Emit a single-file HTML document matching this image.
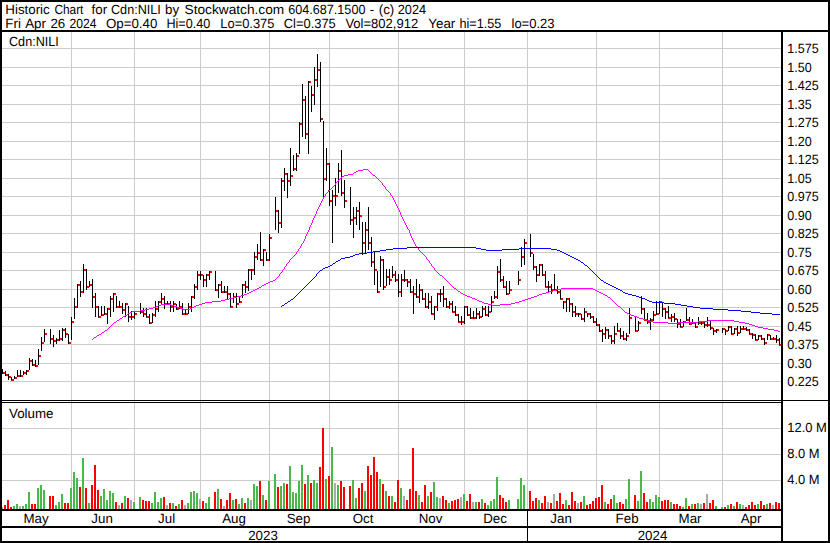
<!DOCTYPE html>
<html><head><meta charset="utf-8"><title>Historic Chart for Cdn:NILI</title>
<style>html,body{margin:0;padding:0;background:#fff;}svg{display:block;}</style></head>
<body>
<svg width="830" height="543" viewBox="0 0 830 543" shape-rendering="crispEdges">
<rect width="830" height="543" fill="#fff"/>
<path fill="#cccccc" d="M2 48h779v1h-779zM2 67h779v1h-779zM2 85h779v1h-779zM2 104h779v1h-779zM2 122h779v1h-779zM2 141h779v1h-779zM2 159h779v1h-779zM2 178h779v1h-779zM2 196h779v1h-779zM2 215h779v1h-779zM2 233h779v1h-779zM2 252h779v1h-779zM2 270h779v1h-779zM2 289h779v1h-779zM2 307h779v1h-779zM2 326h779v1h-779zM2 344h779v1h-779zM2 363h779v1h-779zM2 381h779v1h-779zM2 428h779v1h-779zM2 454h779v1h-779zM2 480h779v1h-779zM71 32h1v477h-1zM134 32h1v477h-1zM200 32h1v477h-1zM269 32h1v477h-1zM329 32h1v477h-1zM398 32h1v477h-1zM464 32h1v477h-1zM527 32h1v477h-1zM596 32h1v477h-1zM659 32h1v477h-1zM722 32h1v477h-1z"/>
<path fill="#48b848" d="M13 506h2v3h-2zM16 504h2v5h-2zM22 506h2v3h-2zM25 504h2v5h-2zM28 492h2v17h-2zM37 488h2v21h-2zM40 485h2v24h-2zM43 490h2v19h-2zM55 505h2v4h-2zM58 502h2v7h-2zM61 494h2v15h-2zM70 488h2v21h-2zM73 472h2v37h-2zM76 478h2v31h-2zM82 458h2v51h-2zM88 503h2v6h-2zM100 496h2v13h-2zM103 489h2v20h-2zM106 500h2v9h-2zM109 491h2v18h-2zM112 493h2v16h-2zM124 496h2v13h-2zM133 502h2v7h-2zM139 497h2v12h-2zM151 503h2v6h-2zM154 492h2v17h-2zM157 502h2v7h-2zM160 498h2v11h-2zM172 503h2v6h-2zM178 504h2v5h-2zM187 503h2v6h-2zM190 492h2v17h-2zM193 491h2v18h-2zM196 493h2v16h-2zM205 503h2v6h-2zM208 497h2v12h-2zM217 489h2v20h-2zM232 500h2v9h-2zM238 504h2v5h-2zM241 498h2v11h-2zM247 498h2v11h-2zM253 484h2v25h-2zM256 486h2v23h-2zM262 495h2v14h-2zM268 481h2v28h-2zM274 474h2v35h-2zM280 486h2v23h-2zM283 483h2v26h-2zM289 466h2v43h-2zM292 492h2v17h-2zM295 493h2v16h-2zM298 481h2v28h-2zM301 465h2v44h-2zM307 475h2v34h-2zM313 480h2v29h-2zM316 483h2v26h-2zM325 479h2v30h-2zM331 447h2v62h-2zM337 485h2v24h-2zM352 480h2v29h-2zM355 498h2v11h-2zM364 491h2v18h-2zM379 479h2v30h-2zM385 491h2v18h-2zM391 496h2v13h-2zM400 488h2v21h-2zM418 495h2v14h-2zM427 496h2v13h-2zM433 482h2v27h-2zM436 497h2v12h-2zM448 503h2v6h-2zM463 494h2v15h-2zM475 502h2v7h-2zM481 499h2v10h-2zM487 505h2v4h-2zM490 501h2v8h-2zM493 499h2v10h-2zM496 477h2v32h-2zM508 500h2v9h-2zM517 499h2v10h-2zM520 478h2v31h-2zM523 485h2v24h-2zM538 500h2v9h-2zM565 500h2v9h-2zM583 496h2v13h-2zM604 502h2v7h-2zM613 495h2v14h-2zM616 503h2v6h-2zM625 499h2v10h-2zM628 479h2v30h-2zM637 501h2v8h-2zM640 471h2v38h-2zM649 499h2v10h-2zM652 502h2v7h-2zM655 495h2v14h-2zM658 497h2v12h-2zM670 502h2v7h-2zM682 507h2v2h-2zM685 498h2v11h-2zM691 504h2v5h-2zM697 503h2v6h-2zM715 506h2v3h-2zM721 507h2v2h-2zM727 505h2v4h-2zM733 506h2v3h-2zM739 504h2v5h-2zM757 504h2v5h-2zM766 504h2v5h-2z"/>
<path fill="#aaaaaa" d="M1 507h2v2h-2zM19 506h2v3h-2zM118 505h2v4h-2zM130 500h2v9h-2zM166 505h2v4h-2zM184 505h2v4h-2zM199 499h2v10h-2zM223 506h2v3h-2zM250 500h2v9h-2zM334 483h2v26h-2zM403 496h2v13h-2zM439 498h2v11h-2zM460 497h2v12h-2zM472 502h2v7h-2zM547 502h2v7h-2zM553 494h2v15h-2zM577 503h2v6h-2zM700 504h2v5h-2zM706 494h2v15h-2zM742 505h2v4h-2zM772 505h2v4h-2z"/>
<path fill="#ff0000" d="M4 505h2v4h-2zM7 500h2v9h-2zM10 507h2v2h-2zM31 504h2v5h-2zM34 504h2v5h-2zM49 496h2v13h-2zM52 496h2v13h-2zM64 503h2v6h-2zM67 503h2v6h-2zM79 487h2v22h-2zM85 488h2v21h-2zM91 485h2v24h-2zM94 465h2v44h-2zM97 490h2v19h-2zM115 502h2v7h-2zM121 503h2v6h-2zM127 498h2v11h-2zM142 500h2v9h-2zM145 501h2v8h-2zM148 501h2v8h-2zM163 497h2v12h-2zM169 503h2v6h-2zM175 506h2v3h-2zM181 500h2v9h-2zM202 501h2v8h-2zM214 492h2v17h-2zM220 499h2v10h-2zM226 500h2v9h-2zM229 493h2v16h-2zM235 499h2v10h-2zM244 503h2v6h-2zM259 481h2v28h-2zM265 500h2v9h-2zM277 487h2v22h-2zM286 484h2v25h-2zM304 484h2v25h-2zM310 483h2v26h-2zM319 467h2v42h-2zM322 428h2v81h-2zM328 476h2v33h-2zM340 481h2v28h-2zM343 487h2v22h-2zM349 486h2v23h-2zM358 488h2v21h-2zM361 483h2v26h-2zM367 466h2v43h-2zM370 475h2v34h-2zM373 457h2v52h-2zM376 472h2v37h-2zM382 484h2v25h-2zM388 496h2v13h-2zM394 502h2v7h-2zM397 480h2v29h-2zM406 500h2v9h-2zM409 489h2v20h-2zM412 448h2v61h-2zM415 491h2v18h-2zM421 502h2v7h-2zM424 485h2v24h-2zM430 492h2v17h-2zM442 496h2v13h-2zM445 500h2v9h-2zM451 501h2v8h-2zM454 500h2v9h-2zM457 499h2v10h-2zM466 501h2v8h-2zM469 494h2v15h-2zM478 502h2v7h-2zM484 503h2v6h-2zM499 495h2v14h-2zM502 498h2v11h-2zM505 502h2v7h-2zM529 491h2v18h-2zM532 501h2v8h-2zM535 498h2v11h-2zM541 503h2v6h-2zM544 496h2v13h-2zM550 503h2v6h-2zM556 501h2v8h-2zM559 493h2v16h-2zM562 504h2v5h-2zM568 505h2v4h-2zM571 492h2v17h-2zM574 501h2v8h-2zM580 502h2v7h-2zM586 505h2v4h-2zM589 504h2v5h-2zM592 501h2v8h-2zM595 498h2v11h-2zM598 497h2v12h-2zM601 485h2v24h-2zM607 504h2v5h-2zM610 499h2v10h-2zM619 502h2v7h-2zM622 504h2v5h-2zM634 495h2v14h-2zM643 493h2v16h-2zM646 502h2v7h-2zM661 501h2v8h-2zM664 500h2v9h-2zM667 500h2v9h-2zM673 504h2v5h-2zM676 504h2v5h-2zM679 506h2v3h-2zM688 506h2v3h-2zM694 504h2v5h-2zM703 503h2v6h-2zM709 503h2v6h-2zM712 500h2v9h-2zM724 507h2v2h-2zM730 504h2v5h-2zM736 502h2v7h-2zM745 507h2v2h-2zM748 505h2v4h-2zM751 502h2v7h-2zM754 505h2v4h-2zM760 501h2v8h-2zM763 505h2v4h-2zM769 503h2v6h-2zM775 502h2v7h-2zM778 503h2v6h-2z"/>
<path fill="#ff0000" d="M2 372h3v2h-3zM5 374h3v2h-3zM8 376h3v2h-3zM11 379h3v2h-3zM14 377h3v2h-3zM17 375h3v2h-3zM20 375h3v2h-3zM23 372h3v2h-3zM26 370h3v2h-3zM29 360h3v2h-3zM32 364h3v2h-3zM35 365h3v2h-3zM38 355h3v2h-3zM41 342h3v2h-3zM44 333h3v2h-3zM50 338h3v2h-3zM53 340h3v2h-3zM56 339h3v2h-3zM59 338h3v2h-3zM62 329h3v2h-3zM65 333h3v2h-3zM68 342h3v2h-3zM71 321h3v2h-3zM74 306h3v2h-3zM77 284h3v2h-3zM80 291h3v2h-3zM83 269h3v2h-3zM86 286h3v2h-3zM89 284h3v2h-3zM92 296h3v2h-3zM95 306h3v2h-3zM98 316h3v2h-3zM101 314h3v2h-3zM104 313h3v2h-3zM107 308h3v2h-3zM110 298h3v2h-3zM113 293h3v2h-3zM116 306h3v2h-3zM119 306h3v2h-3zM122 309h3v2h-3zM125 303h3v2h-3zM128 316h3v2h-3zM131 316h3v2h-3zM134 313h3v2h-3zM140 311h3v2h-3zM143 313h3v2h-3zM146 316h3v2h-3zM149 322h3v2h-3zM152 314h3v2h-3zM155 308h3v2h-3zM158 301h3v2h-3zM161 298h3v2h-3zM164 303h3v2h-3zM167 303h3v2h-3zM170 306h3v2h-3zM173 303h3v2h-3zM176 308h3v2h-3zM179 306h3v2h-3zM182 313h3v2h-3zM185 313h3v2h-3zM188 306h3v2h-3zM191 296h3v2h-3zM194 286h3v2h-3zM197 274h3v2h-3zM200 274h3v2h-3zM203 279h3v2h-3zM206 274h3v2h-3zM209 271h3v2h-3zM215 289h3v2h-3zM218 284h3v2h-3zM221 291h3v2h-3zM224 291h3v2h-3zM227 293h3v2h-3zM230 306h3v2h-3zM233 296h3v2h-3zM236 303h3v2h-3zM239 301h3v2h-3zM242 284h3v2h-3zM245 286h3v2h-3zM248 269h3v2h-3zM251 269h3v2h-3zM254 256h3v2h-3zM257 252h3v2h-3zM260 259h3v2h-3zM263 249h3v2h-3zM266 259h3v2h-3zM269 237h3v2h-3zM275 210h3v2h-3zM278 222h3v2h-3zM281 180h3v2h-3zM284 173h3v2h-3zM287 180h3v2h-3zM290 175h3v2h-3zM293 168h3v2h-3zM296 155h3v2h-3zM299 123h3v2h-3zM302 99h3v2h-3zM305 133h3v2h-3zM308 81h3v2h-3zM311 94h3v2h-3zM314 79h3v2h-3zM317 69h3v2h-3zM320 118h3v2h-3zM323 178h3v2h-3zM326 163h3v2h-3zM329 200h3v2h-3zM332 195h3v2h-3zM335 195h3v2h-3zM338 170h3v2h-3zM341 192h3v2h-3zM344 200h3v2h-3zM350 219h3v2h-3zM353 217h3v2h-3zM356 210h3v2h-3zM359 215h3v2h-3zM362 242h3v2h-3zM365 229h3v2h-3zM368 242h3v2h-3zM371 261h3v2h-3zM374 269h3v2h-3zM377 291h3v2h-3zM380 259h3v2h-3zM383 286h3v2h-3zM386 276h3v2h-3zM389 279h3v2h-3zM392 274h3v2h-3zM395 279h3v2h-3zM398 291h3v2h-3zM401 279h3v2h-3zM404 279h3v2h-3zM407 281h3v2h-3zM410 291h3v2h-3zM413 293h3v2h-3zM416 296h3v2h-3zM419 289h3v2h-3zM422 298h3v2h-3zM425 306h3v2h-3zM428 301h3v2h-3zM431 313h3v2h-3zM434 306h3v2h-3zM437 293h3v2h-3zM440 293h3v2h-3zM443 298h3v2h-3zM446 306h3v2h-3zM449 303h3v2h-3zM452 311h3v2h-3zM455 314h3v2h-3zM458 321h3v2h-3zM461 321h3v2h-3zM464 306h3v2h-3zM467 314h3v2h-3zM470 317h3v2h-3zM473 317h3v2h-3zM476 313h3v2h-3zM479 316h3v2h-3zM482 308h3v2h-3zM485 314h3v2h-3zM488 311h3v2h-3zM491 301h3v2h-3zM494 296h3v2h-3zM497 271h3v2h-3zM500 279h3v2h-3zM503 286h3v2h-3zM506 293h3v2h-3zM509 289h3v2h-3zM518 279h3v2h-3zM521 256h3v2h-3zM524 242h3v2h-3zM530 252h3v2h-3zM533 266h3v2h-3zM536 274h3v2h-3zM539 264h3v2h-3zM542 274h3v2h-3zM545 286h3v2h-3zM548 286h3v2h-3zM551 289h3v2h-3zM554 289h3v2h-3zM557 291h3v2h-3zM560 298h3v2h-3zM563 301h3v2h-3zM566 298h3v2h-3zM569 303h3v2h-3zM572 311h3v2h-3zM575 313h3v2h-3zM578 313h3v2h-3zM581 318h3v2h-3zM584 311h3v2h-3zM587 313h3v2h-3zM590 316h3v2h-3zM593 321h3v2h-3zM596 324h3v2h-3zM599 330h3v2h-3zM602 333h3v2h-3zM605 329h3v2h-3zM608 335h3v2h-3zM611 340h3v2h-3zM614 333h3v2h-3zM617 330h3v2h-3zM620 335h3v2h-3zM623 338h3v2h-3zM626 335h3v2h-3zM629 317h3v2h-3zM635 330h3v2h-3zM638 322h3v2h-3zM641 308h3v2h-3zM644 319h3v2h-3zM647 321h3v2h-3zM650 319h3v2h-3zM653 314h3v2h-3zM656 313h3v2h-3zM659 301h3v2h-3zM662 308h3v2h-3zM665 311h3v2h-3zM668 317h3v2h-3zM671 316h3v2h-3zM674 318h3v2h-3zM677 323h3v2h-3zM680 326h3v2h-3zM683 321h3v2h-3zM686 319h3v2h-3zM689 323h3v2h-3zM692 322h3v2h-3zM695 326h3v2h-3zM698 322h3v2h-3zM701 322h3v2h-3zM704 324h3v2h-3zM707 324h3v2h-3zM710 327h3v2h-3zM713 330h3v2h-3zM716 329h3v2h-3zM722 328h3v2h-3zM725 330h3v2h-3zM728 326h3v2h-3zM731 333h3v2h-3zM734 328h3v2h-3zM737 332h3v2h-3zM740 328h3v2h-3zM743 328h3v2h-3zM746 329h3v2h-3zM749 333h3v2h-3zM752 334h3v2h-3zM755 339h3v2h-3zM758 335h3v2h-3zM761 338h3v2h-3zM764 342h3v2h-3zM767 334h3v2h-3zM770 338h3v2h-3zM773 338h3v2h-3zM776 339h3v2h-3zM779 344h3v2h-3z"/>
<path fill="#000" d="M2 369h1v5h-1zM5 371h1v5h-1zM8 374h1v6h-1zM11 377h1v3h-1zM14 376h1v3h-1zM17 370h1v7h-1zM20 370h1v7h-1zM23 371h1v4h-1zM26 370h1v5h-1zM29 358h1v12h-1zM32 359h1v7h-1zM35 360h1v7h-1zM38 349h1v16h-1zM41 337h1v14h-1zM44 329h1v13h-1zM50 329h1v15h-1zM53 335h1v12h-1zM56 338h1v6h-1zM59 330h1v11h-1zM62 328h1v13h-1zM65 328h1v10h-1zM68 334h1v10h-1zM71 317h1v23h-1zM74 298h1v21h-1zM77 284h1v24h-1zM80 281h1v16h-1zM83 264h1v29h-1zM86 269h1v21h-1zM89 281h1v6h-1zM92 279h1v29h-1zM95 293h1v24h-1zM98 306h1v11h-1zM101 306h1v10h-1zM104 306h1v9h-1zM107 308h1v16h-1zM110 296h1v21h-1zM113 293h1v19h-1zM116 296h1v12h-1zM119 301h1v7h-1zM122 303h1v11h-1zM125 303h1v14h-1zM128 306h1v16h-1zM131 311h1v9h-1zM134 312h1v7h-1zM140 303h1v11h-1zM143 308h1v9h-1zM146 308h1v9h-1zM149 314h1v10h-1zM152 313h1v10h-1zM155 301h1v16h-1zM158 301h1v11h-1zM161 293h1v11h-1zM164 296h1v13h-1zM167 301h1v4h-1zM170 301h1v11h-1zM173 301h1v11h-1zM176 304h1v6h-1zM179 301h1v8h-1zM182 303h1v12h-1zM185 309h1v6h-1zM188 303h1v11h-1zM191 296h1v16h-1zM194 284h1v15h-1zM197 271h1v19h-1zM200 271h1v9h-1zM203 275h1v12h-1zM206 274h1v13h-1zM209 271h1v9h-1zM215 271h1v20h-1zM218 284h1v14h-1zM221 281h1v12h-1zM224 286h1v7h-1zM227 286h1v13h-1zM230 293h1v14h-1zM233 293h1v10h-1zM236 293h1v15h-1zM239 296h1v7h-1zM242 284h1v14h-1zM245 281h1v12h-1zM248 269h1v22h-1zM251 269h1v11h-1zM254 252h1v23h-1zM257 244h1v16h-1zM260 232h1v29h-1zM263 249h1v17h-1zM266 252h1v9h-1zM269 234h1v27h-1zM275 197h1v33h-1zM278 210h1v23h-1zM281 178h1v50h-1zM284 168h1v23h-1zM287 173h1v25h-1zM290 148h1v38h-1zM293 155h1v16h-1zM296 153h1v18h-1zM299 122h1v32h-1zM302 84h1v53h-1zM305 96h1v43h-1zM308 81h1v73h-1zM311 86h1v26h-1zM314 67h1v38h-1zM317 54h1v33h-1zM320 62h1v60h-1zM323 121h1v77h-1zM326 148h1v33h-1zM329 163h1v43h-1zM332 190h1v53h-1zM335 178h1v28h-1zM338 163h1v30h-1zM341 150h1v46h-1zM344 180h1v28h-1zM350 187h1v38h-1zM353 207h1v31h-1zM356 207h1v18h-1zM359 202h1v28h-1zM362 222h1v33h-1zM365 222h1v31h-1zM368 207h1v43h-1zM371 237h1v30h-1zM374 252h1v33h-1zM377 271h1v22h-1zM380 256h1v31h-1zM383 259h1v31h-1zM386 269h1v17h-1zM389 269h1v16h-1zM392 266h1v12h-1zM395 271h1v11h-1zM398 274h1v23h-1zM401 274h1v23h-1zM404 270h1v12h-1zM407 279h1v8h-1zM410 279h1v14h-1zM413 286h1v28h-1zM416 279h1v19h-1zM419 284h1v19h-1zM422 289h1v11h-1zM425 293h1v15h-1zM428 293h1v16h-1zM431 296h1v18h-1zM434 306h1v14h-1zM437 293h1v18h-1zM440 289h1v13h-1zM443 286h1v21h-1zM446 298h1v10h-1zM449 301h1v8h-1zM452 301h1v11h-1zM455 306h1v10h-1zM458 314h1v8h-1zM461 316h1v9h-1zM464 306h1v18h-1zM467 306h1v10h-1zM470 308h1v11h-1zM473 311h1v8h-1zM476 308h1v11h-1zM479 311h1v8h-1zM482 306h1v11h-1zM485 306h1v10h-1zM488 306h1v11h-1zM491 296h1v16h-1zM494 291h1v8h-1zM497 266h1v33h-1zM500 259h1v23h-1zM503 276h1v12h-1zM506 281h1v14h-1zM509 281h1v13h-1zM518 271h1v14h-1zM521 247h1v20h-1zM524 239h1v26h-1zM530 234h1v23h-1zM533 254h1v16h-1zM536 266h1v16h-1zM539 264h1v12h-1zM542 264h1v12h-1zM545 271h1v16h-1zM548 281h1v11h-1zM551 284h1v10h-1zM554 274h1v16h-1zM557 286h1v8h-1zM560 289h1v10h-1zM563 301h1v8h-1zM566 298h1v14h-1zM569 298h1v14h-1zM572 303h1v14h-1zM575 306h1v11h-1zM578 313h1v4h-1zM581 314h1v6h-1zM584 308h1v14h-1zM587 313h1v4h-1zM590 313h1v6h-1zM593 316h1v7h-1zM596 318h1v8h-1zM599 324h1v8h-1zM602 329h1v13h-1zM605 327h1v12h-1zM608 329h1v10h-1zM611 335h1v9h-1zM614 326h1v18h-1zM617 323h1v8h-1zM620 328h1v11h-1zM623 331h1v9h-1zM626 333h1v8h-1zM629 308h1v26h-1zM635 317h1v14h-1zM638 321h1v10h-1zM641 296h1v18h-1zM644 308h1v12h-1zM647 313h1v11h-1zM650 318h1v12h-1zM653 311h1v10h-1zM656 301h1v14h-1zM659 301h1v13h-1zM662 302h1v15h-1zM665 308h1v11h-1zM668 306h1v12h-1zM671 314h1v8h-1zM674 313h1v9h-1zM677 319h1v9h-1zM680 319h1v8h-1zM683 321h1v6h-1zM686 308h1v13h-1zM689 317h1v8h-1zM692 319h1v5h-1zM695 322h1v6h-1zM698 317h1v8h-1zM701 322h1v3h-1zM704 321h1v7h-1zM707 317h1v10h-1zM710 321h1v9h-1zM713 328h1v7h-1zM716 329h1v4h-1zM722 328h1v5h-1zM725 329h1v6h-1zM728 326h1v5h-1zM731 326h1v8h-1zM734 328h1v6h-1zM737 326h1v10h-1zM740 326h1v7h-1zM743 326h1v4h-1zM746 327h1v4h-1zM749 329h1v5h-1zM752 333h1v6h-1zM755 334h1v6h-1zM758 335h1v5h-1zM761 335h1v5h-1zM764 338h1v7h-1zM767 334h1v6h-1zM770 335h1v5h-1zM773 337h1v3h-1zM776 335h1v8h-1zM779 338h1v7h-1z"/>
<path fill="#ff00ff" d="M92 339h1v1h-1zM93 338h1v1h-1zM94 337h1v1h-1zM95 337h1v1h-1zM96 336h1v1h-1zM97 335h1v1h-1zM98 335h1v1h-1zM99 334h1v1h-1zM100 334h1v1h-1zM101 333h1v1h-1zM102 332h1v1h-1zM103 332h1v1h-1zM104 331h1v1h-1zM105 330h1v1h-1zM106 330h1v1h-1zM107 329h1v1h-1zM108 328h1v1h-1zM109 327h1v1h-1zM110 326h1v1h-1zM111 325h1v1h-1zM112 324h1v1h-1zM113 323h1v1h-1zM114 322h1v1h-1zM115 322h1v1h-1zM116 321h1v1h-1zM117 320h1v1h-1zM118 320h1v1h-1zM119 319h1v1h-1zM120 318h1v1h-1zM121 318h1v1h-1zM122 317h1v1h-1zM123 316h1v1h-1zM124 316h1v1h-1zM125 315h1v1h-1zM126 315h1v1h-1zM127 314h1v1h-1zM128 313h1v1h-1zM129 313h1v1h-1zM130 312h1v1h-1zM131 312h1v1h-1zM132 311h1v1h-1zM133 311h1v1h-1zM134 311h1v1h-1zM135 311h1v1h-1zM136 311h1v1h-1zM137 311h1v1h-1zM138 311h1v1h-1zM139 311h1v1h-1zM140 310h1v1h-1zM141 310h1v1h-1zM142 310h1v1h-1zM143 310h1v1h-1zM144 310h1v1h-1zM145 309h1v1h-1zM146 309h1v1h-1zM147 309h1v1h-1zM148 309h1v1h-1zM149 308h1v1h-1zM150 308h1v1h-1zM151 308h1v1h-1zM152 308h1v1h-1zM153 307h1v1h-1zM154 307h1v1h-1zM155 307h1v1h-1zM156 306h1v1h-1zM157 306h1v1h-1zM158 305h1v1h-1zM159 305h1v1h-1zM160 305h1v1h-1zM161 304h1v1h-1zM162 304h1v1h-1zM163 304h1v1h-1zM164 304h1v1h-1zM165 304h1v1h-1zM166 304h1v1h-1zM167 304h1v1h-1zM168 304h1v1h-1zM169 304h1v1h-1zM170 304h1v1h-1zM171 305h1v1h-1zM172 305h1v1h-1zM173 305h1v1h-1zM174 306h1v1h-1zM175 306h1v1h-1zM176 306h1v1h-1zM177 307h1v1h-1zM178 307h1v1h-1zM179 307h1v1h-1zM180 308h1v1h-1zM181 308h1v1h-1zM182 308h1v1h-1zM183 309h1v1h-1zM184 309h1v1h-1zM185 309h1v1h-1zM186 309h1v1h-1zM187 309h1v1h-1zM188 309h1v1h-1zM189 309h1v1h-1zM190 308h1v1h-1zM191 308h1v1h-1zM192 307h1v1h-1zM193 307h1v1h-1zM194 306h1v1h-1zM195 306h1v1h-1zM196 305h1v1h-1zM197 305h1v1h-1zM198 305h1v1h-1zM199 304h1v1h-1zM200 304h1v1h-1zM201 304h1v1h-1zM202 303h1v1h-1zM203 303h1v1h-1zM204 303h1v1h-1zM205 302h1v1h-1zM206 302h1v1h-1zM207 302h1v1h-1zM208 302h1v1h-1zM209 302h1v1h-1zM210 302h1v1h-1zM211 302h1v1h-1zM212 301h1v1h-1zM213 301h1v1h-1zM214 301h1v1h-1zM215 301h1v1h-1zM216 301h1v1h-1zM217 301h1v1h-1zM218 301h1v1h-1zM219 301h1v1h-1zM220 301h1v1h-1zM221 300h1v1h-1zM222 300h1v1h-1zM223 300h1v1h-1zM224 300h1v1h-1zM225 299h1v1h-1zM226 299h1v1h-1zM227 299h1v1h-1zM228 299h1v1h-1zM229 298h1v1h-1zM230 298h1v1h-1zM231 298h1v1h-1zM232 298h1v1h-1zM233 297h1v1h-1zM234 297h1v1h-1zM235 297h1v1h-1zM236 297h1v1h-1zM237 296h1v1h-1zM238 296h1v1h-1zM239 296h1v1h-1zM240 296h1v1h-1zM241 295h1v1h-1zM242 295h1v1h-1zM243 295h1v1h-1zM244 294h1v1h-1zM245 294h1v1h-1zM246 294h1v1h-1zM247 293h1v1h-1zM248 293h1v1h-1zM249 292h1v1h-1zM250 292h1v1h-1zM251 291h1v1h-1zM252 291h1v1h-1zM253 290h1v1h-1zM254 290h1v1h-1zM255 289h1v1h-1zM256 289h1v1h-1zM257 288h1v1h-1zM258 288h1v1h-1zM259 287h1v1h-1zM260 287h1v1h-1zM261 286h1v1h-1zM262 285h1v1h-1zM263 285h1v1h-1zM264 284h1v1h-1zM265 284h1v1h-1zM266 283h1v1h-1zM267 283h1v1h-1zM268 282h1v1h-1zM269 282h1v1h-1zM270 281h1v1h-1zM271 281h1v1h-1zM272 281h1v1h-1zM273 280h1v1h-1zM274 280h1v1h-1zM275 279h1v1h-1zM276 278h1v1h-1zM277 277h1v1h-1zM278 276h1v1h-1zM279 274h1v2h-1zM280 273h1v1h-1zM281 272h1v1h-1zM282 270h1v2h-1zM283 269h1v1h-1zM284 267h1v2h-1zM285 266h1v1h-1zM286 264h1v2h-1zM287 263h1v1h-1zM288 262h1v1h-1zM289 260h1v2h-1zM290 259h1v1h-1zM291 258h1v1h-1zM292 257h1v1h-1zM293 256h1v1h-1zM294 255h1v1h-1zM295 254h1v1h-1zM296 252h1v2h-1zM297 251h1v1h-1zM298 249h1v2h-1zM299 248h1v1h-1zM300 246h1v2h-1zM301 244h1v2h-1zM302 243h1v1h-1zM303 241h1v2h-1zM304 239h1v2h-1zM305 236h1v3h-1zM306 234h1v2h-1zM307 232h1v2h-1zM308 230h1v2h-1zM309 227h1v3h-1zM310 225h1v2h-1zM311 223h1v2h-1zM312 220h1v3h-1zM313 218h1v2h-1zM314 216h1v2h-1zM315 214h1v2h-1zM316 211h1v3h-1zM317 209h1v2h-1zM318 207h1v2h-1zM319 205h1v2h-1zM320 203h1v2h-1zM321 201h1v2h-1zM322 199h1v2h-1zM323 197h1v2h-1zM324 196h1v1h-1zM325 194h1v2h-1zM326 193h1v1h-1zM327 192h1v1h-1zM328 190h1v2h-1zM329 190h1v1h-1zM330 189h1v1h-1zM331 188h1v1h-1zM332 187h1v1h-1zM333 186h1v1h-1zM334 185h1v1h-1zM335 183h1v2h-1zM336 182h1v1h-1zM337 181h1v1h-1zM338 180h1v1h-1zM339 179h1v1h-1zM340 178h1v1h-1zM341 177h1v1h-1zM342 176h1v1h-1zM343 176h1v1h-1zM344 175h1v1h-1zM345 175h1v1h-1zM346 175h1v1h-1zM347 175h1v1h-1zM348 174h1v1h-1zM349 174h1v1h-1zM350 174h1v1h-1zM351 174h1v1h-1zM352 174h1v1h-1zM353 173h1v1h-1zM354 172h1v1h-1zM355 172h1v1h-1zM356 171h1v1h-1zM357 171h1v1h-1zM358 170h1v1h-1zM359 170h1v1h-1zM360 170h1v1h-1zM361 170h1v1h-1zM362 170h1v1h-1zM363 169h1v1h-1zM364 169h1v1h-1zM365 169h1v1h-1zM366 169h1v1h-1zM367 169h1v1h-1zM368 170h1v1h-1zM369 171h1v1h-1zM370 172h1v1h-1zM371 173h1v1h-1zM372 174h1v1h-1zM373 175h1v1h-1zM374 175h1v1h-1zM375 176h1v1h-1zM376 177h1v1h-1zM377 178h1v1h-1zM378 179h1v1h-1zM379 180h1v1h-1zM380 181h1v1h-1zM381 182h1v1h-1zM382 183h1v2h-1zM383 185h1v1h-1zM384 186h1v1h-1zM385 187h1v2h-1zM386 189h1v1h-1zM387 190h1v1h-1zM388 191h1v1h-1zM389 192h1v1h-1zM390 193h1v2h-1zM391 195h1v1h-1zM392 196h1v2h-1zM393 198h1v2h-1zM394 200h1v2h-1zM395 202h1v2h-1zM396 204h1v2h-1zM397 206h1v2h-1zM398 208h1v2h-1zM399 210h1v2h-1zM400 212h1v3h-1zM401 215h1v2h-1zM402 217h1v2h-1zM403 219h1v2h-1zM404 221h1v2h-1zM405 223h1v2h-1zM406 225h1v2h-1zM407 227h1v2h-1zM408 229h1v1h-1zM409 230h1v3h-1zM410 233h1v3h-1zM411 236h1v2h-1zM412 238h1v2h-1zM413 240h1v2h-1zM414 242h1v2h-1zM415 244h1v2h-1zM416 246h1v1h-1zM417 247h1v1h-1zM418 248h1v2h-1zM419 250h1v1h-1zM420 251h1v1h-1zM421 252h1v1h-1zM422 253h1v1h-1zM423 254h1v1h-1zM424 255h1v1h-1zM425 256h1v1h-1zM426 257h1v2h-1zM427 259h1v1h-1zM428 260h1v1h-1zM429 261h1v2h-1zM430 263h1v1h-1zM431 264h1v2h-1zM432 266h1v1h-1zM433 267h1v1h-1zM434 268h1v2h-1zM435 270h1v1h-1zM436 271h1v1h-1zM437 272h1v1h-1zM438 273h1v1h-1zM439 274h1v1h-1zM440 275h1v1h-1zM441 275h1v1h-1zM442 276h1v1h-1zM443 277h1v1h-1zM444 278h1v1h-1zM445 279h1v1h-1zM446 280h1v1h-1zM447 281h1v1h-1zM448 282h1v1h-1zM449 283h1v1h-1zM450 284h1v1h-1zM451 285h1v1h-1zM452 286h1v1h-1zM453 287h1v1h-1zM454 288h1v1h-1zM455 288h1v1h-1zM456 289h1v1h-1zM457 290h1v1h-1zM458 291h1v1h-1zM459 291h1v1h-1zM460 292h1v1h-1zM461 293h1v1h-1zM462 293h1v1h-1zM463 294h1v1h-1zM464 294h1v1h-1zM465 295h1v1h-1zM466 295h1v1h-1zM467 296h1v1h-1zM468 296h1v1h-1zM469 296h1v1h-1zM470 297h1v1h-1zM471 297h1v1h-1zM472 298h1v1h-1zM473 298h1v1h-1zM474 298h1v1h-1zM475 299h1v1h-1zM476 299h1v1h-1zM477 300h1v1h-1zM478 300h1v1h-1zM479 301h1v1h-1zM480 301h1v1h-1zM481 301h1v1h-1zM482 302h1v1h-1zM483 302h1v1h-1zM484 303h1v1h-1zM485 303h1v1h-1zM486 303h1v1h-1zM487 303h1v1h-1zM488 304h1v1h-1zM489 304h1v1h-1zM490 304h1v1h-1zM491 304h1v1h-1zM492 305h1v1h-1zM493 305h1v1h-1zM494 305h1v1h-1zM495 305h1v1h-1zM496 305h1v1h-1zM497 305h1v1h-1zM498 305h1v1h-1zM499 305h1v1h-1zM500 304h1v1h-1zM501 304h1v1h-1zM502 304h1v1h-1zM503 304h1v1h-1zM504 304h1v1h-1zM505 304h1v1h-1zM506 304h1v1h-1zM507 304h1v1h-1zM508 304h1v1h-1zM509 304h1v1h-1zM510 304h1v1h-1zM511 303h1v1h-1zM512 303h1v1h-1zM513 303h1v1h-1zM514 303h1v1h-1zM515 302h1v1h-1zM516 302h1v1h-1zM517 302h1v1h-1zM518 302h1v1h-1zM519 301h1v1h-1zM520 301h1v1h-1zM521 301h1v1h-1zM522 300h1v1h-1zM523 300h1v1h-1zM524 300h1v1h-1zM525 299h1v1h-1zM526 299h1v1h-1zM527 299h1v1h-1zM528 298h1v1h-1zM529 298h1v1h-1zM530 298h1v1h-1zM531 297h1v1h-1zM532 297h1v1h-1zM533 297h1v1h-1zM534 296h1v1h-1zM535 296h1v1h-1zM536 296h1v1h-1zM537 295h1v1h-1zM538 295h1v1h-1zM539 294h1v1h-1zM540 294h1v1h-1zM541 294h1v1h-1zM542 293h1v1h-1zM543 293h1v1h-1zM544 293h1v1h-1zM545 293h1v1h-1zM546 292h1v1h-1zM547 292h1v1h-1zM548 292h1v1h-1zM549 291h1v1h-1zM550 291h1v1h-1zM551 291h1v1h-1zM552 291h1v1h-1zM553 290h1v1h-1zM554 290h1v1h-1zM555 290h1v1h-1zM556 289h1v1h-1zM557 289h1v1h-1zM558 289h1v1h-1zM559 289h1v1h-1zM560 289h1v1h-1zM561 288h1v1h-1zM562 288h1v1h-1zM563 288h1v1h-1zM564 288h1v1h-1zM565 288h1v1h-1zM566 288h1v1h-1zM567 288h1v1h-1zM568 288h1v1h-1zM569 288h1v1h-1zM570 288h1v1h-1zM571 288h1v1h-1zM572 288h1v1h-1zM573 288h1v1h-1zM574 288h1v1h-1zM575 288h1v1h-1zM576 288h1v1h-1zM577 288h1v1h-1zM578 288h1v1h-1zM579 288h1v1h-1zM580 288h1v1h-1zM581 288h1v1h-1zM582 288h1v1h-1zM583 288h1v1h-1zM584 288h1v1h-1zM585 288h1v1h-1zM586 288h1v1h-1zM587 288h1v1h-1zM588 288h1v1h-1zM589 288h1v1h-1zM590 288h1v1h-1zM591 288h1v1h-1zM592 288h1v1h-1zM593 289h1v1h-1zM594 289h1v1h-1zM595 290h1v1h-1zM596 290h1v1h-1zM597 291h1v1h-1zM598 291h1v1h-1zM599 292h1v1h-1zM600 292h1v1h-1zM601 293h1v1h-1zM602 293h1v1h-1zM603 294h1v1h-1zM604 294h1v1h-1zM605 295h1v1h-1zM606 295h1v1h-1zM607 296h1v1h-1zM608 297h1v1h-1zM609 297h1v1h-1zM610 298h1v1h-1zM611 299h1v1h-1zM612 300h1v1h-1zM613 301h1v1h-1zM614 302h1v1h-1zM615 303h1v1h-1zM616 304h1v1h-1zM617 305h1v1h-1zM618 306h1v1h-1zM619 306h1v1h-1zM620 307h1v1h-1zM621 308h1v1h-1zM622 309h1v1h-1zM623 310h1v1h-1zM624 311h1v1h-1zM625 312h1v1h-1zM626 312h1v1h-1zM627 313h1v1h-1zM628 313h1v1h-1zM629 314h1v1h-1zM630 314h1v1h-1zM631 315h1v1h-1zM632 315h1v1h-1zM633 315h1v1h-1zM634 316h1v1h-1zM635 316h1v1h-1zM636 316h1v1h-1zM637 317h1v1h-1zM638 317h1v1h-1zM639 318h1v1h-1zM640 318h1v1h-1zM641 318h1v1h-1zM642 318h1v1h-1zM643 319h1v1h-1zM644 319h1v1h-1zM645 319h1v1h-1zM646 319h1v1h-1zM647 320h1v1h-1zM648 320h1v1h-1zM649 320h1v1h-1zM650 321h1v1h-1zM651 321h1v1h-1zM652 321h1v1h-1zM653 322h1v1h-1zM654 322h1v1h-1zM655 322h1v1h-1zM656 322h1v1h-1zM657 322h1v1h-1zM658 322h1v1h-1zM659 322h1v1h-1zM660 322h1v1h-1zM661 322h1v1h-1zM662 322h1v1h-1zM663 322h1v1h-1zM664 322h1v1h-1zM665 322h1v1h-1zM666 322h1v1h-1zM667 322h1v1h-1zM668 323h1v1h-1zM669 323h1v1h-1zM670 323h1v1h-1zM671 323h1v1h-1zM672 323h1v1h-1zM673 323h1v1h-1zM674 323h1v1h-1zM675 323h1v1h-1zM676 323h1v1h-1zM677 323h1v1h-1zM678 322h1v1h-1zM679 322h1v1h-1zM680 322h1v1h-1zM681 322h1v1h-1zM682 322h1v1h-1zM683 322h1v1h-1zM684 322h1v1h-1zM685 322h1v1h-1zM686 322h1v1h-1zM687 322h1v1h-1zM688 322h1v1h-1zM689 322h1v1h-1zM690 322h1v1h-1zM691 322h1v1h-1zM692 322h1v1h-1zM693 322h1v1h-1zM694 322h1v1h-1zM695 322h1v1h-1zM696 322h1v1h-1zM697 322h1v1h-1zM698 321h1v1h-1zM699 321h1v1h-1zM700 321h1v1h-1zM701 321h1v1h-1zM702 321h1v1h-1zM703 321h1v1h-1zM704 321h1v1h-1zM705 321h1v1h-1zM706 321h1v1h-1zM707 321h1v1h-1zM708 320h1v1h-1zM709 320h1v1h-1zM710 320h1v1h-1zM711 320h1v1h-1zM712 320h1v1h-1zM713 320h1v1h-1zM714 320h1v1h-1zM715 320h1v1h-1zM716 320h1v1h-1zM717 320h1v1h-1zM718 320h1v1h-1zM719 320h1v1h-1zM720 320h1v1h-1zM721 320h1v1h-1zM722 320h1v1h-1zM723 320h1v1h-1zM724 320h1v1h-1zM725 320h1v1h-1zM726 320h1v1h-1zM727 320h1v1h-1zM728 320h1v1h-1zM729 320h1v1h-1zM730 320h1v1h-1zM731 320h1v1h-1zM732 320h1v1h-1zM733 320h1v1h-1zM734 321h1v1h-1zM735 321h1v1h-1zM736 321h1v1h-1zM737 321h1v1h-1zM738 321h1v1h-1zM739 322h1v1h-1zM740 322h1v1h-1zM741 322h1v1h-1zM742 322h1v1h-1zM743 322h1v1h-1zM744 322h1v1h-1zM745 323h1v1h-1zM746 323h1v1h-1zM747 323h1v1h-1zM748 323h1v1h-1zM749 324h1v1h-1zM750 324h1v1h-1zM751 324h1v1h-1zM752 325h1v1h-1zM753 325h1v1h-1zM754 325h1v1h-1zM755 326h1v1h-1zM756 326h1v1h-1zM757 326h1v1h-1zM758 327h1v1h-1zM759 327h1v1h-1zM760 327h1v1h-1zM761 327h1v1h-1zM762 327h1v1h-1zM763 328h1v1h-1zM764 328h1v1h-1zM765 328h1v1h-1zM766 328h1v1h-1zM767 328h1v1h-1zM768 329h1v1h-1zM769 329h1v1h-1zM770 329h1v1h-1zM771 329h1v1h-1zM772 329h1v1h-1zM773 329h1v1h-1zM774 330h1v1h-1zM775 330h1v1h-1zM776 330h1v1h-1zM777 330h1v1h-1zM778 331h1v1h-1zM779 331h1v1h-1z"/>
<path fill="#0000ff" d="M281 306h1v1h-1zM282 305h1v1h-1zM283 305h1v1h-1zM284 304h1v1h-1zM285 303h1v1h-1zM286 303h1v1h-1zM287 302h1v1h-1zM288 301h1v1h-1zM289 301h1v1h-1zM290 300h1v1h-1zM291 299h1v1h-1zM292 299h1v1h-1zM293 298h1v1h-1zM294 297h1v1h-1zM295 296h1v1h-1zM296 295h1v1h-1zM297 294h1v1h-1zM298 293h1v1h-1zM299 292h1v1h-1zM300 291h1v1h-1zM301 290h1v1h-1zM302 289h1v1h-1zM303 288h1v1h-1zM304 287h1v1h-1zM305 286h1v1h-1zM306 285h1v1h-1zM307 284h1v1h-1zM308 283h1v1h-1zM309 282h1v1h-1zM310 281h1v1h-1zM311 280h1v1h-1zM312 279h1v1h-1zM313 278h1v1h-1zM314 277h1v1h-1zM315 276h1v1h-1zM316 274h1v2h-1zM317 273h1v1h-1zM318 272h1v1h-1zM319 271h1v1h-1zM320 270h1v1h-1zM321 270h1v1h-1zM322 269h1v1h-1zM323 268h1v1h-1zM324 268h1v1h-1zM325 267h1v1h-1zM326 267h1v1h-1zM327 267h1v1h-1zM328 266h1v1h-1zM329 266h1v1h-1zM330 265h1v1h-1zM331 265h1v1h-1zM332 264h1v1h-1zM333 263h1v1h-1zM334 263h1v1h-1zM335 262h1v1h-1zM336 261h1v1h-1zM337 261h1v1h-1zM338 260h1v1h-1zM339 260h1v1h-1zM340 259h1v1h-1zM341 258h1v1h-1zM342 258h1v1h-1zM343 258h1v1h-1zM344 258h1v1h-1zM345 257h1v1h-1zM346 257h1v1h-1zM347 257h1v1h-1zM348 257h1v1h-1zM349 257h1v1h-1zM350 256h1v1h-1zM351 256h1v1h-1zM352 256h1v1h-1zM353 255h1v1h-1zM354 255h1v1h-1zM355 254h1v1h-1zM356 254h1v1h-1zM357 254h1v1h-1zM358 254h1v1h-1zM359 253h1v1h-1zM360 253h1v1h-1zM361 253h1v1h-1zM362 253h1v1h-1zM363 253h1v1h-1zM364 253h1v1h-1zM365 253h1v1h-1zM366 253h1v1h-1zM367 252h1v1h-1zM368 252h1v1h-1zM369 252h1v1h-1zM370 252h1v1h-1zM371 252h1v1h-1zM372 252h1v1h-1zM373 251h1v1h-1zM374 251h1v1h-1zM375 251h1v1h-1zM376 251h1v1h-1zM377 251h1v1h-1zM378 251h1v1h-1zM379 251h1v1h-1zM380 250h1v1h-1zM381 250h1v1h-1zM382 250h1v1h-1zM383 250h1v1h-1zM384 250h1v1h-1zM385 250h1v1h-1zM386 249h1v1h-1zM387 249h1v1h-1zM388 249h1v1h-1zM389 249h1v1h-1zM390 249h1v1h-1zM391 249h1v1h-1zM392 249h1v1h-1zM393 248h1v1h-1zM394 248h1v1h-1zM395 248h1v1h-1zM396 248h1v1h-1zM397 248h1v1h-1zM398 248h1v1h-1zM399 248h1v1h-1zM400 248h1v1h-1zM401 248h1v1h-1zM402 248h1v1h-1zM403 248h1v1h-1zM404 248h1v1h-1zM405 248h1v1h-1zM406 248h1v1h-1zM407 247h1v1h-1zM408 247h1v1h-1zM409 247h1v1h-1zM410 247h1v1h-1zM411 247h1v1h-1zM412 247h1v1h-1zM413 247h1v1h-1zM414 247h1v1h-1zM415 247h1v1h-1zM416 247h1v1h-1zM417 247h1v1h-1zM418 247h1v1h-1zM419 247h1v1h-1zM420 247h1v1h-1zM421 247h1v1h-1zM422 247h1v1h-1zM423 247h1v1h-1zM424 247h1v1h-1zM425 247h1v1h-1zM426 247h1v1h-1zM427 247h1v1h-1zM428 247h1v1h-1zM429 247h1v1h-1zM430 247h1v1h-1zM431 247h1v1h-1zM432 247h1v1h-1zM433 247h1v1h-1zM434 247h1v1h-1zM435 247h1v1h-1zM436 247h1v1h-1zM437 247h1v1h-1zM438 247h1v1h-1zM439 247h1v1h-1zM440 247h1v1h-1zM441 247h1v1h-1zM442 247h1v1h-1zM443 247h1v1h-1zM444 247h1v1h-1zM445 247h1v1h-1zM446 247h1v1h-1zM447 247h1v1h-1zM448 247h1v1h-1zM449 247h1v1h-1zM450 247h1v1h-1zM451 247h1v1h-1zM452 247h1v1h-1zM453 247h1v1h-1zM454 247h1v1h-1zM455 247h1v1h-1zM456 247h1v1h-1zM457 247h1v1h-1zM458 247h1v1h-1zM459 247h1v1h-1zM460 247h1v1h-1zM461 247h1v1h-1zM462 247h1v1h-1zM463 247h1v1h-1zM464 247h1v1h-1zM465 247h1v1h-1zM466 247h1v1h-1zM467 247h1v1h-1zM468 247h1v1h-1zM469 247h1v1h-1zM470 247h1v1h-1zM471 247h1v1h-1zM472 247h1v1h-1zM473 247h1v1h-1zM474 247h1v1h-1zM475 247h1v1h-1zM476 248h1v1h-1zM477 248h1v1h-1zM478 248h1v1h-1zM479 248h1v1h-1zM480 248h1v1h-1zM481 249h1v1h-1zM482 249h1v1h-1zM483 249h1v1h-1zM484 249h1v1h-1zM485 249h1v1h-1zM486 250h1v1h-1zM487 250h1v1h-1zM488 250h1v1h-1zM489 250h1v1h-1zM490 250h1v1h-1zM491 250h1v1h-1zM492 250h1v1h-1zM493 250h1v1h-1zM494 250h1v1h-1zM495 250h1v1h-1zM496 250h1v1h-1zM497 250h1v1h-1zM498 250h1v1h-1zM499 250h1v1h-1zM500 250h1v1h-1zM501 250h1v1h-1zM502 249h1v1h-1zM503 249h1v1h-1zM504 249h1v1h-1zM505 249h1v1h-1zM506 249h1v1h-1zM507 249h1v1h-1zM508 249h1v1h-1zM509 249h1v1h-1zM510 249h1v1h-1zM511 249h1v1h-1zM512 249h1v1h-1zM513 249h1v1h-1zM514 249h1v1h-1zM515 249h1v1h-1zM516 249h1v1h-1zM517 249h1v1h-1zM518 249h1v1h-1zM519 248h1v1h-1zM520 248h1v1h-1zM521 248h1v1h-1zM522 248h1v1h-1zM523 248h1v1h-1zM524 248h1v1h-1zM525 248h1v1h-1zM526 248h1v1h-1zM527 248h1v1h-1zM528 248h1v1h-1zM529 248h1v1h-1zM530 248h1v1h-1zM531 248h1v1h-1zM532 248h1v1h-1zM533 248h1v1h-1zM534 248h1v1h-1zM535 248h1v1h-1zM536 248h1v1h-1zM537 248h1v1h-1zM538 248h1v1h-1zM539 248h1v1h-1zM540 248h1v1h-1zM541 248h1v1h-1zM542 248h1v1h-1zM543 248h1v1h-1zM544 248h1v1h-1zM545 248h1v1h-1zM546 248h1v1h-1zM547 248h1v1h-1zM548 248h1v1h-1zM549 248h1v1h-1zM550 248h1v1h-1zM551 249h1v1h-1zM552 249h1v1h-1zM553 249h1v1h-1zM554 249h1v1h-1zM555 249h1v1h-1zM556 249h1v1h-1zM557 250h1v1h-1zM558 250h1v1h-1zM559 250h1v1h-1zM560 251h1v1h-1zM561 251h1v1h-1zM562 252h1v1h-1zM563 252h1v1h-1zM564 253h1v1h-1zM565 253h1v1h-1zM566 254h1v1h-1zM567 254h1v1h-1zM568 255h1v1h-1zM569 255h1v1h-1zM570 256h1v1h-1zM571 256h1v1h-1zM572 257h1v1h-1zM573 257h1v1h-1zM574 258h1v1h-1zM575 258h1v1h-1zM576 259h1v1h-1zM577 259h1v1h-1zM578 260h1v1h-1zM579 260h1v1h-1zM580 261h1v1h-1zM581 262h1v1h-1zM582 262h1v1h-1zM583 263h1v1h-1zM584 264h1v1h-1zM585 265h1v1h-1zM586 265h1v1h-1zM587 266h1v1h-1zM588 267h1v1h-1zM589 268h1v1h-1zM590 269h1v1h-1zM591 270h1v1h-1zM592 271h1v1h-1zM593 272h1v1h-1zM594 273h1v1h-1zM595 274h1v1h-1zM596 275h1v1h-1zM597 276h1v1h-1zM598 277h1v1h-1zM599 278h1v1h-1zM600 279h1v1h-1zM601 280h1v1h-1zM602 280h1v1h-1zM603 281h1v1h-1zM604 282h1v1h-1zM605 282h1v1h-1zM606 283h1v1h-1zM607 283h1v1h-1zM608 284h1v1h-1zM609 284h1v1h-1zM610 285h1v1h-1zM611 285h1v1h-1zM612 286h1v1h-1zM613 286h1v1h-1zM614 287h1v1h-1zM615 287h1v1h-1zM616 288h1v1h-1zM617 288h1v1h-1zM618 289h1v1h-1zM619 289h1v1h-1zM620 290h1v1h-1zM621 290h1v1h-1zM622 291h1v1h-1zM623 292h1v1h-1zM624 292h1v1h-1zM625 293h1v1h-1zM626 293h1v1h-1zM627 293h1v1h-1zM628 294h1v1h-1zM629 294h1v1h-1zM630 294h1v1h-1zM631 294h1v1h-1zM632 295h1v1h-1zM633 295h1v1h-1zM634 295h1v1h-1zM635 295h1v1h-1zM636 296h1v1h-1zM637 296h1v1h-1zM638 296h1v1h-1zM639 297h1v1h-1zM640 297h1v1h-1zM641 297h1v1h-1zM642 298h1v1h-1zM643 298h1v1h-1zM644 298h1v1h-1zM645 299h1v1h-1zM646 299h1v1h-1zM647 300h1v1h-1zM648 300h1v1h-1zM649 301h1v1h-1zM650 301h1v1h-1zM651 301h1v1h-1zM652 302h1v1h-1zM653 302h1v1h-1zM654 302h1v1h-1zM655 302h1v1h-1zM656 302h1v1h-1zM657 302h1v1h-1zM658 302h1v1h-1zM659 302h1v1h-1zM660 302h1v1h-1zM661 302h1v1h-1zM662 302h1v1h-1zM663 302h1v1h-1zM664 303h1v1h-1zM665 303h1v1h-1zM666 303h1v1h-1zM667 303h1v1h-1zM668 303h1v1h-1zM669 303h1v1h-1zM670 303h1v1h-1zM671 303h1v1h-1zM672 303h1v1h-1zM673 303h1v1h-1zM674 303h1v1h-1zM675 304h1v1h-1zM676 304h1v1h-1zM677 304h1v1h-1zM678 304h1v1h-1zM679 304h1v1h-1zM680 304h1v1h-1zM681 305h1v1h-1zM682 305h1v1h-1zM683 305h1v1h-1zM684 305h1v1h-1zM685 305h1v1h-1zM686 305h1v1h-1zM687 306h1v1h-1zM688 306h1v1h-1zM689 306h1v1h-1zM690 306h1v1h-1zM691 306h1v1h-1zM692 306h1v1h-1zM693 307h1v1h-1zM694 307h1v1h-1zM695 307h1v1h-1zM696 307h1v1h-1zM697 307h1v1h-1zM698 307h1v1h-1zM699 307h1v1h-1zM700 308h1v1h-1zM701 308h1v1h-1zM702 308h1v1h-1zM703 308h1v1h-1zM704 308h1v1h-1zM705 308h1v1h-1zM706 308h1v1h-1zM707 308h1v1h-1zM708 308h1v1h-1zM709 308h1v1h-1zM710 308h1v1h-1zM711 308h1v1h-1zM712 308h1v1h-1zM713 309h1v1h-1zM714 309h1v1h-1zM715 309h1v1h-1zM716 309h1v1h-1zM717 309h1v1h-1zM718 309h1v1h-1zM719 309h1v1h-1zM720 309h1v1h-1zM721 309h1v1h-1zM722 309h1v1h-1zM723 309h1v1h-1zM724 309h1v1h-1zM725 309h1v1h-1zM726 309h1v1h-1zM727 309h1v1h-1zM728 310h1v1h-1zM729 310h1v1h-1zM730 310h1v1h-1zM731 310h1v1h-1zM732 310h1v1h-1zM733 310h1v1h-1zM734 310h1v1h-1zM735 310h1v1h-1zM736 310h1v1h-1zM737 310h1v1h-1zM738 310h1v1h-1zM739 310h1v1h-1zM740 310h1v1h-1zM741 311h1v1h-1zM742 311h1v1h-1zM743 311h1v1h-1zM744 311h1v1h-1zM745 311h1v1h-1zM746 311h1v1h-1zM747 311h1v1h-1zM748 311h1v1h-1zM749 311h1v1h-1zM750 311h1v1h-1zM751 312h1v1h-1zM752 312h1v1h-1zM753 312h1v1h-1zM754 312h1v1h-1zM755 312h1v1h-1zM756 312h1v1h-1zM757 312h1v1h-1zM758 312h1v1h-1zM759 312h1v1h-1zM760 313h1v1h-1zM761 313h1v1h-1zM762 313h1v1h-1zM763 313h1v1h-1zM764 313h1v1h-1zM765 313h1v1h-1zM766 313h1v1h-1zM767 313h1v1h-1zM768 313h1v1h-1zM769 313h1v1h-1zM770 313h1v1h-1zM771 313h1v1h-1zM772 314h1v1h-1zM773 314h1v1h-1zM774 314h1v1h-1zM775 314h1v1h-1zM776 314h1v1h-1zM777 314h1v1h-1zM778 314h1v1h-1zM779 314h1v1h-1z"/>
<path fill="#000" d="M0 0h830v2h-830zM0 541h830v2h-830zM0 0h2v543h-2zM828 0h2v543h-2zM0 30h830v2h-830zM781 30h2v513h-2zM0 400h830v1h-830zM0 402h782v1h-782zM0 509h783v2h-783zM0 526h783v2h-783zM527 509h1v34h-1z"/>
<g font-family="'Liberation Sans', sans-serif" font-size="13.33px" fill="#000" text-rendering="geometricPrecision">
<text x="5.3" y="14" text-anchor="start">Historic</text>
<text x="54.4" y="14" text-anchor="start" textLength="29.0" lengthAdjust="spacingAndGlyphs">Chart</text>
<text x="91.6" y="14" text-anchor="start">for</text>
<text x="111.0" y="14" text-anchor="start" textLength="49.8" lengthAdjust="spacingAndGlyphs">Cdn:NILI</text>
<text x="165.1" y="14" text-anchor="start">by</text>
<text x="184.5" y="14" text-anchor="start" textLength="99.7" lengthAdjust="spacingAndGlyphs">Stockwatch.com</text>
<text x="288.3" y="14" text-anchor="start" textLength="77.1" lengthAdjust="spacingAndGlyphs">604.687.1500</text>
<text x="369.7" y="14" text-anchor="start">-</text>
<text x="378.7" y="14" text-anchor="start">(c)</text>
<text x="397.7" y="14" text-anchor="start" textLength="28.4" lengthAdjust="spacingAndGlyphs">2024</text>
<text x="5.3" y="28" text-anchor="start">Fri</text>
<text x="25.2" y="28" text-anchor="start">Apr</text>
<text x="50.4" y="28" text-anchor="start">26</text>
<text x="69.4" y="28" text-anchor="start" textLength="27.0" lengthAdjust="spacingAndGlyphs">2024</text>
<text x="105.9" y="28" text-anchor="start">Op=0.40</text>
<text x="166.4" y="28" text-anchor="start" textLength="43.8" lengthAdjust="spacingAndGlyphs">Hi=0.40</text>
<text x="220.3" y="28" text-anchor="start" textLength="54.1" lengthAdjust="spacingAndGlyphs">Lo=0.375</text>
<text x="283.8" y="28" text-anchor="start" textLength="52.0" lengthAdjust="spacingAndGlyphs">Cl=0.375</text>
<text x="345.4" y="28" text-anchor="start" textLength="72.8" lengthAdjust="spacingAndGlyphs">Vol=802,912</text>
<text x="428.3" y="28" text-anchor="start">Year</text>
<text x="459.4" y="28" text-anchor="start" textLength="42.0" lengthAdjust="spacingAndGlyphs">hi=1.55</text>
<text x="511.5" y="28" text-anchor="start" textLength="43.0" lengthAdjust="spacingAndGlyphs">lo=0.23</text>
<text x="9" y="46" text-anchor="start" textLength="49.8" lengthAdjust="spacingAndGlyphs">Cdn:NILI</text>
<text x="9" y="418" text-anchor="start">Volume</text>
<text x="787.3" y="53.0" text-anchor="start" textLength="31.4" lengthAdjust="spacingAndGlyphs">1.575</text>
<text x="787.3" y="71.5" text-anchor="start" textLength="24.4" lengthAdjust="spacingAndGlyphs">1.50</text>
<text x="787.3" y="90.0" text-anchor="start" textLength="31.4" lengthAdjust="spacingAndGlyphs">1.425</text>
<text x="787.3" y="108.5" text-anchor="start" textLength="24.4" lengthAdjust="spacingAndGlyphs">1.35</text>
<text x="787.3" y="127.0" text-anchor="start" textLength="31.4" lengthAdjust="spacingAndGlyphs">1.275</text>
<text x="787.3" y="145.6" text-anchor="start" textLength="24.4" lengthAdjust="spacingAndGlyphs">1.20</text>
<text x="787.3" y="164.1" text-anchor="start" textLength="31.4" lengthAdjust="spacingAndGlyphs">1.125</text>
<text x="787.3" y="182.6" text-anchor="start" textLength="24.4" lengthAdjust="spacingAndGlyphs">1.05</text>
<text x="787.3" y="201.1" text-anchor="start" textLength="31.4" lengthAdjust="spacingAndGlyphs">0.975</text>
<text x="787.3" y="219.6" text-anchor="start" textLength="24.4" lengthAdjust="spacingAndGlyphs">0.90</text>
<text x="787.3" y="238.1" text-anchor="start" textLength="31.4" lengthAdjust="spacingAndGlyphs">0.825</text>
<text x="787.3" y="256.6" text-anchor="start" textLength="24.4" lengthAdjust="spacingAndGlyphs">0.75</text>
<text x="787.3" y="275.1" text-anchor="start" textLength="31.4" lengthAdjust="spacingAndGlyphs">0.675</text>
<text x="787.3" y="293.6" text-anchor="start" textLength="24.4" lengthAdjust="spacingAndGlyphs">0.60</text>
<text x="787.3" y="312.1" text-anchor="start" textLength="31.4" lengthAdjust="spacingAndGlyphs">0.525</text>
<text x="787.3" y="330.7" text-anchor="start" textLength="24.4" lengthAdjust="spacingAndGlyphs">0.45</text>
<text x="787.3" y="349.2" text-anchor="start" textLength="31.4" lengthAdjust="spacingAndGlyphs">0.375</text>
<text x="787.3" y="367.7" text-anchor="start" textLength="24.4" lengthAdjust="spacingAndGlyphs">0.30</text>
<text x="787.3" y="386.2" text-anchor="start" textLength="31.4" lengthAdjust="spacingAndGlyphs">0.225</text>
<text x="787.3" y="432.4" text-anchor="start" textLength="39.5" lengthAdjust="spacingAndGlyphs">12.0 M</text>
<text x="787.3" y="458.4" text-anchor="start" textLength="32.3" lengthAdjust="spacingAndGlyphs">8.0 M</text>
<text x="787.3" y="484.4" text-anchor="start" textLength="32.3" lengthAdjust="spacingAndGlyphs">4.0 M</text>
<text x="36.1" y="523" text-anchor="middle">May</text>
<text x="102.1" y="523" text-anchor="middle">Jun</text>
<text x="166.6" y="523" text-anchor="middle">Jul</text>
<text x="234.1" y="523" text-anchor="middle">Aug</text>
<text x="298.6" y="523" text-anchor="middle">Sep</text>
<text x="363.1" y="523" text-anchor="middle">Oct</text>
<text x="430.6" y="523" text-anchor="middle">Nov</text>
<text x="495.1" y="523" text-anchor="middle">Dec</text>
<text x="561.1" y="523" text-anchor="middle">Jan</text>
<text x="627.1" y="523" text-anchor="middle">Feb</text>
<text x="690.1" y="523" text-anchor="middle">Mar</text>
<text x="751.1" y="523" text-anchor="middle">Apr</text>
<text x="263" y="540" text-anchor="middle">2023</text>
<text x="652.5" y="540" text-anchor="middle">2024</text>
</g>
</svg>
</body></html>
